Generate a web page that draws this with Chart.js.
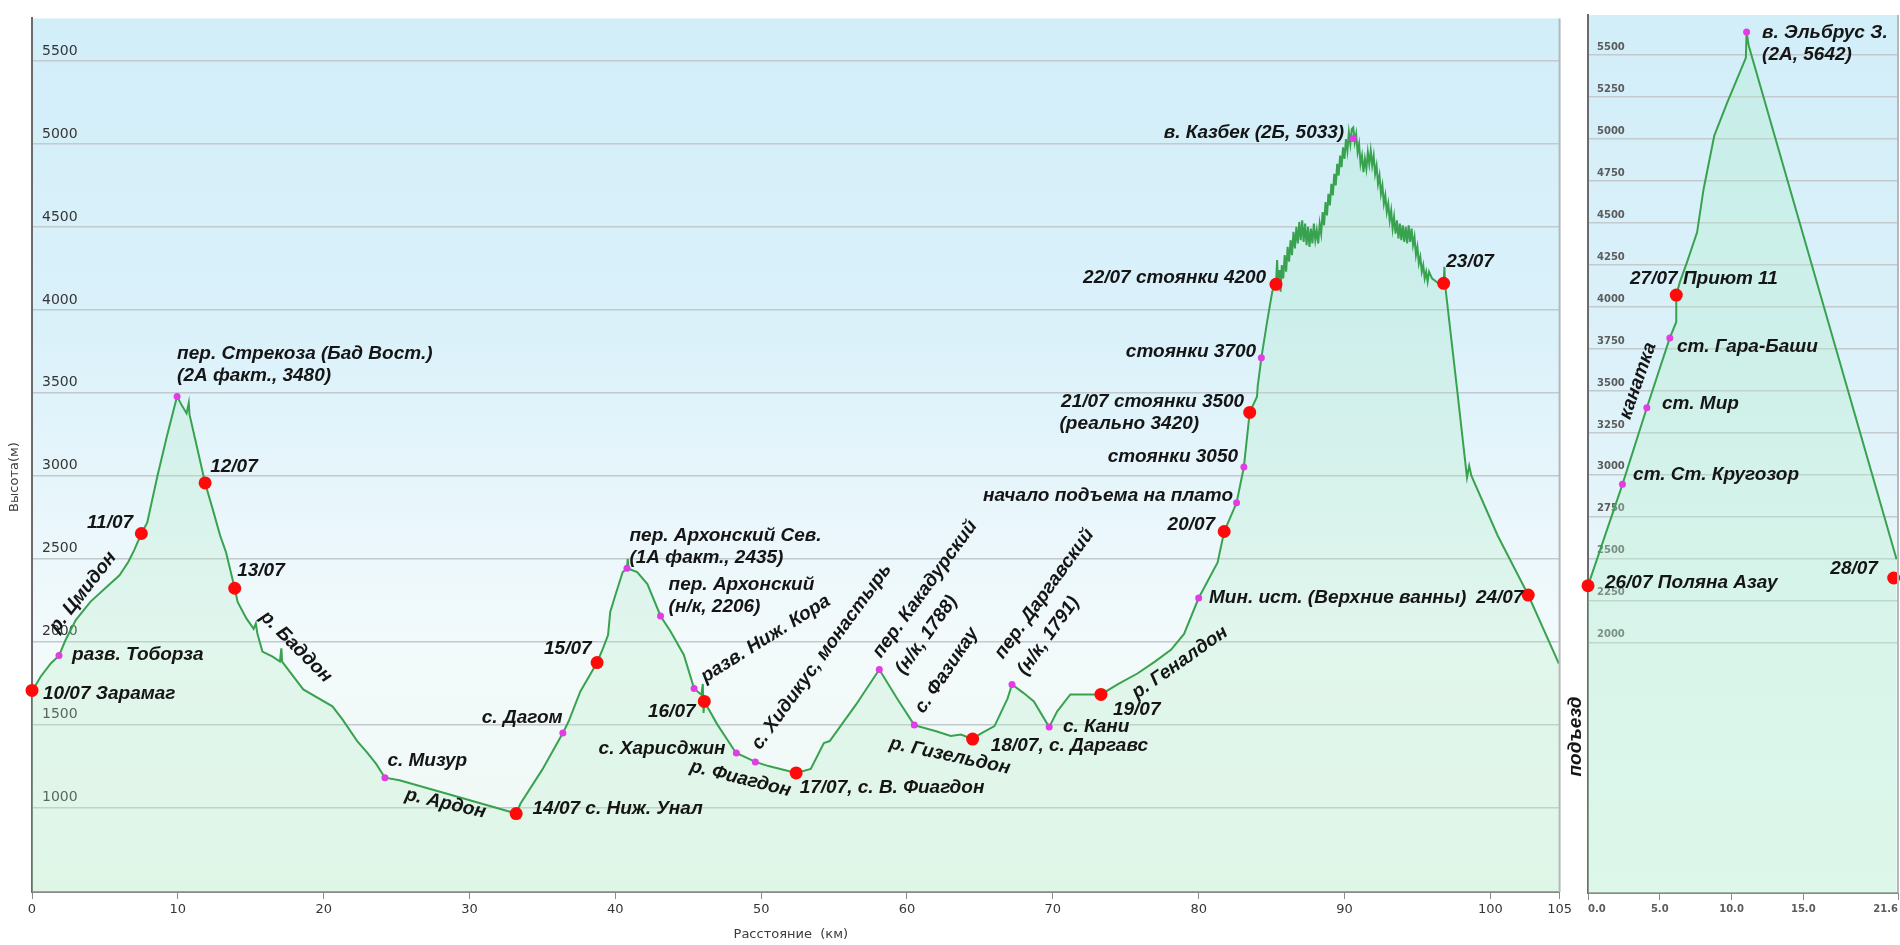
<!DOCTYPE html>
<html>
<head>
<meta charset="utf-8">
<script src="https://cdn.jsdelivr.net/npm/chart.js@4.4.1/dist/chart.umd.min.js"></script>
<style>
    html, body { margin: 0; padding: 0; width: 1900px; height: 945px; overflow: hidden; background: #fff; }
    #trek-chart { position: absolute; left: 0; top: 0; }
    #elbrus-chart { position: absolute; left: 1560px; top: 0; }
</style>
</head>
<body>
<canvas id="trek-chart" width="1575" height="945"></canvas>
<canvas id="elbrus-chart" width="360" height="945"></canvas>
<script>
// Main trek: [distance km, altitude m]
const trekProfile = [
    [0, 1700], [0.6, 1790], [1.3, 1870], [1.85, 1916], [2.3, 2010], [3.0, 2130], [4.0, 2240], [5.0, 2320],
    [6.0, 2400], [6.6, 2480], [7.0, 2550], [7.5, 2652], [7.9, 2717], [8.6, 2999], [9.25, 3238], [9.7, 3394],
    [9.95, 3478], [10.3, 3420], [10.6, 3376], [10.75, 3440], [10.8, 3370], [11.3, 3178], [11.87, 2957],
    [12.4, 2796], [12.9, 2640], [13.3, 2540], [13.9, 2322], [14.1, 2239], [14.7, 2140], [15.2, 2077],
    [15.35, 2110], [15.45, 2050], [15.8, 1940], [16.5, 1910], [17.0, 1880], [17.1, 1960], [17.15, 1880],
    [18.6, 1712], [20.6, 1610], [21.3, 1530], [22.3, 1401], [23.0, 1330], [23.6, 1263], [24.2, 1180],
    [25.2, 1165], [29.0, 1070], [33.2, 964], [33.5, 1024], [35.0, 1230], [36.4, 1449], [36.8, 1520],
    [37.6, 1700], [38.75, 1874], [39.2, 1970], [39.5, 2040], [39.65, 2179], [40.0, 2280], [40.5, 2418],
    [40.8, 2442], [40.85, 2500], [40.9, 2440], [41.5, 2420], [42.2, 2347], [43.1, 2155], [43.8, 2060],
    [44.7, 1920], [45.4, 1718], [45.9, 1680], [46.0, 1745], [46.05, 1570], [46.1, 1640], [47.0, 1500],
    [48.1, 1353], [48.3, 1329], [49.6, 1275], [50.5, 1250], [52.4, 1209], [53.4, 1233], [54.3, 1389],
    [54.7, 1401], [56.5, 1620], [58.1, 1832], [59.3, 1660], [60.5, 1497], [62.0, 1460], [63.0, 1431],
    [63.7, 1440], [64.5, 1413], [65.0, 1443], [66.0, 1491], [66.9, 1658], [67.2, 1742], [68.0, 1690],
    [68.7, 1640], [69.75, 1485], [70.3, 1580], [71.2, 1682], [73.3, 1682], [74.5, 1745], [75.8, 1808],
    [77.0, 1880], [78.1, 1951], [79.0, 2047], [80.0, 2263], [81.3, 2478], [81.75, 2664], [82.6, 2837],
    [83.1, 3053], [83.5, 3382], [84.0, 3477], [84.05, 3540], [84.3, 3711], [84.7, 3932], [85.05, 4112],
    // Kazbek ascent and descent (noisy GPS track)
    [85.3, 4154], [85.38, 4300], [85.45, 4140], [85.55, 4240], [85.62, 4110], [85.7, 4270], [85.8, 4190],
    [85.9, 4330], [86.0, 4230], [86.1, 4380], [86.2, 4290], [86.3, 4420], [86.4, 4330], [86.5, 4470],
    [86.6, 4370], [86.7, 4500], [86.8, 4400], [86.9, 4530], [87.0, 4420], [87.1, 4540], [87.2, 4410],
    [87.3, 4520], [87.4, 4390], [87.5, 4500], [87.6, 4380], [87.7, 4490], [87.8, 4400], [87.9, 4520],
    [88.0, 4420], [88.1, 4480], [88.2, 4400], [88.3, 4520], [88.4, 4460], [88.5, 4590], [88.6, 4510],
    [88.7, 4650], [88.8, 4570], [88.9, 4700], [89.0, 4630], [89.1, 4760], [89.2, 4690], [89.3, 4820],
    [89.4, 4750], [89.5, 4880], [89.6, 4810], [89.7, 4930], [89.8, 4860], [89.9, 4980], [90.0, 4910],
    [90.1, 5030], [90.2, 4960], [90.3, 5070], [90.4, 5000], [90.5, 5090], [90.6, 5100], [90.7, 5010],
    [90.8, 5060], [90.9, 4950], [91.0, 5000], [91.1, 4880], [91.2, 4930], [91.3, 4830], [91.4, 4910],
    [91.5, 4850], [91.6, 4950], [91.7, 4880], [91.8, 4960], [91.9, 4870], [92.0, 4930], [92.1, 4820],
    [92.2, 4870], [92.3, 4760], [92.4, 4810], [92.5, 4700], [92.6, 4750], [92.7, 4640], [92.8, 4690],
    [92.9, 4590], [93.0, 4640], [93.1, 4540], [93.2, 4600], [93.3, 4490], [93.4, 4560], [93.5, 4460],
    [93.6, 4540], [93.7, 4430], [93.8, 4520], [93.9, 4420], [94.0, 4510], [94.1, 4410], [94.2, 4500],
    [94.3, 4400], [94.4, 4510], [94.5, 4410], [94.6, 4490], [94.7, 4390], [94.8, 4440], [94.9, 4330],
    [95.0, 4380], [95.1, 4280], [95.2, 4320], [95.3, 4230], [95.4, 4270], [95.5, 4190], [95.6, 4230],
    [95.7, 4170], [95.8, 4230], [96.0, 4190], [96.3, 4170], [96.6, 4150], [96.8, 4160], [96.85, 4260],
    [96.9, 4150], [97.7, 3537], [98.4, 2990], [98.55, 3060], [98.7, 3000], [100.5, 2640], [102.6, 2281],
    [104.7, 1868]
];

// Overnight stops (red) and named waypoints (magenta)
const trekDays = [
    [0, 1706], [7.5, 2652], [11.87, 2957], [13.9, 2322], [33.2, 964], [38.75, 1874], [46.1, 1640],
    [52.4, 1209], [64.5, 1413], [73.3, 1682], [81.75, 2664], [83.5, 3382], [85.3, 4154], [96.8, 4160],
    [102.6, 2281]
];
const trekWaypoints = [
    [1.85, 1916], [9.95, 3478], [24.2, 1180], [36.4, 1449], [40.8, 2442], [43.1, 2155], [45.4, 1718],
    [48.3, 1329], [49.6, 1275], [58.1, 1832], [60.5, 1497], [67.2, 1742], [69.75, 1485], [80.0, 2263],
    [82.6, 2837], [83.1, 3053], [84.3, 3711], [90.6, 5033]
];

const trekXTicks = [0, 10, 20, 30, 40, 50, 60, 70, 80, 90, 100, 104.75];
const trekXTickLabels = ['0', '10', '20', '30', '40', '50', '60', '70', '80', '90', '100', '105'];
const trekYTicks = [1000, 1500, 2000, 2500, 3000, 3500, 4000, 4500, 5000, 5500];

// Elbrus day trip
const elbrusProfile = [
    [0, 2340], [2.4, 2944], [4.1, 3400], [5.7, 3816], [6.15, 3911], [6.15, 4000], [6.15, 4071],
    [6.4, 4148], [6.9, 4267], [7.6, 4445], [8.05, 4700], [8.8, 5021], [9.7, 5217], [11.0, 5484],
    [11.05, 5638], [11.2, 5555], [21.5, 2498]
];
const elbrusDays = [[0, 2340], [6.15, 4071], [21.3, 2386]];
const elbrusWaypoints = [[2.4, 2944], [4.1, 3400], [5.7, 3816], [11.05, 5638]];

const elbrusXTicks = [0, 5, 10, 15, 21.6];
const elbrusXTickLabels = ['0.0', '5.0', '10.0', '15.0', '21.6'];
const elbrusYTicks = [2000, 2250, 2500, 2750, 3000, 3250, 3500, 3750, 4000, 4250, 4500, 4750, 5000, 5250, 5500];

// text labels, anchored in km / m
const trekLabels = [
    {t: '10/07 Зарамаг', x: 0.75, y: 1688},
    {t: 'разв. Тоборза', x: 2.75, y: 1922},
    {t: 'р. Цмидон', x: 3.5, y: 2299, align: 'center', rot: -52},
    {t: '11/07', x: 6.93, y: 2717, align: 'right'},
    {t: 'пер. Стрекоза (Бад Вост.)\n(2А факт., 3480)', x: 9.95, y: 3735},
    {t: '12/07', x: 12.22, y: 3053},
    {t: '13/07', x: 14.07, y: 2430},
    {t: 'р. Баддон', x: 18.1, y: 1969, align: 'center', rot: 45},
    {t: 'с. Мизур', x: 24.37, y: 1281},
    {t: 'р. Ардон', x: 28.35, y: 1024, align: 'center', rot: 13},
    {t: '14/07 с. Ниж. Унал', x: 34.32, y: 994},
    {t: 'с. Дагом', x: 36.38, y: 1539, align: 'right'},
    {t: '15/07', x: 38.37, y: 1957, align: 'right'},
    {t: 'пер. Архонский Сев.\n(1А факт., 2435)', x: 40.97, y: 2640},
    {t: 'пер. Архонский\n(н/к, 2206)', x: 43.65, y: 2346},
    {t: 'разв. Ниж. Кора', x: 50.31, y: 2017, align: 'center', rot: -32},
    {t: '16/07', x: 45.5, y: 1580, align: 'right'},
    {t: 'с. Хидикус, монастырь', x: 54.15, y: 1910, align: 'center', rot: -54},
    {t: 'с. Харисджин', x: 47.56, y: 1353, align: 'right'},
    {t: 'р. Фиагдон', x: 48.59, y: 1174, align: 'center', rot: 14},
    {t: '17/07, с. В. Фиагдон', x: 52.64, y: 1120},
    {t: 'пер. Какадурский\n(н/к, 1788)', x: 57.93, y: 1916, rot: -54},
    {t: 'с. Фазикау', x: 62.73, y: 1826, align: 'center', rot: -56},
    {t: 'р. Гизельдон', x: 62.94, y: 1311, align: 'center', rot: 12},
    {t: '18/07, с. Даргавс', x: 65.75, y: 1371},
    {t: 'пер. Даргавский\n(н/к, 1791)', x: 66.3, y: 1910, rot: -54},
    {t: 'с. Кани', x: 70.69, y: 1485},
    {t: '19/07', x: 74.12, y: 1592},
    {t: 'р. Геналдон', x: 78.72, y: 1874, align: 'center', rot: -35},
    {t: 'Мин. ист. (Верхние ванны)', x: 80.71, y: 2263},
    {t: '24/07', x: 102.27, y: 2263, align: 'right'},
    {t: '20/07', x: 81.13, y: 2705, align: 'right'},
    {t: 'начало подъема на плато', x: 82.36, y: 2879, align: 'right'},
    {t: 'стоянки 3050', x: 82.7, y: 3112, align: 'right'},
    {t: '21/07 стоянки 3500', x: 83.12, y: 3447, align: 'right'},
    {t: '(реально 3420)', x: 80.03, y: 3316, align: 'right'},
    {t: 'стоянки 3700', x: 83.94, y: 3747, align: 'right'},
    {t: '22/07 стоянки 4200', x: 84.63, y: 4195, align: 'right'},
    {t: 'в. Казбек (2Б, 5033)', x: 89.98, y: 5069, align: 'right'},
    {t: '23/07', x: 96.98, y: 4291}
];
const elbrusLabels = [
    {t: 'в. Эльбрус З.\n(2А, 5642)', x: 12.13, y: 5632},
    {t: '27/07 Приют 11', x: 2.93, y: 4166},
    {t: 'ст. Гара-Баши', x: 6.2, y: 3763},
    {t: 'ст. Мир', x: 5.16, y: 3424},
    {t: 'ст. Ст. Кругозор', x: 3.14, y: 3003},
    {t: '26/07 Поляна Азау', x: 1.18, y: 2356},
    {t: '28/07', x: 20.2, y: 2439, align: 'right'},
    {t: 'канатка', x: 3.48, y: 3561, align: 'center', rot: -71},
    {t: 'подъезд', x: -0.84, y: 1442, align: 'center', rot: -90}
];

const LABEL_FONT = 'italic bold 19px "Liberation Sans", Arial, sans-serif';

const elevationCharts = {
    init: function () {
        this.generateTrekChart();
        this.generateElbrusChart();
    },

    toPoints: function (pairs) {
        return pairs.map(p => ({x: p[0], y: p[1]}));
    },

    backgroundPlugin: function (stops) {
        return {
            id: 'areaBackground',
            beforeDraw(chart) {
                const {ctx, chartArea: a} = chart;
                const g = ctx.createLinearGradient(0, a.top, 0, a.bottom);
                stops.forEach(s => g.addColorStop(s[0], s[1]));
                ctx.save();
                ctx.fillStyle = g;
                ctx.fillRect(a.left, a.top, a.right - a.left, a.bottom - a.top);
                ctx.restore();
            },
            afterDraw(chart) {
                // thin frame on the right edge of the plot
                const {ctx, chartArea: a} = chart;
                ctx.save();
                ctx.strokeStyle = '#b4b8ba';
                ctx.lineWidth = 2;
                ctx.beginPath();
                ctx.moveTo(a.right, a.top);
                ctx.lineTo(a.right, a.bottom);
                ctx.stroke();
                ctx.restore();
            }
        };
    },

    labelsPlugin: function (items, extra) {
        return {
            id: 'pointLabels',
            afterDatasetsDraw(chart) {
                const c = chart.ctx, xs = chart.scales.x, ys = chart.scales.y;
                c.save();
                c.fillStyle = '#151515';
                c.font = LABEL_FONT;
                c.textBaseline = 'middle';
                items.forEach(l => {
                    c.save();
                    c.translate(xs.getPixelForValue(l.x), ys.getPixelForValue(l.y));
                    if (l.rot) c.rotate(l.rot * Math.PI / 180);
                    c.textAlign = l.align || 'left';
                    const lh = l.rot ? 28 : 22;
                    l.t.split('\n').forEach((line, i) => c.fillText(line, 0, i * lh));
                    c.restore();
                });
                c.restore();
                if (extra) extra(chart);
            }
        };
    },

    fillGradient: function (top, bottom) {
        return function (context) {
            const {ctx, chartArea} = context.chart;
            if (!chartArea) return bottom;
            const g = ctx.createLinearGradient(0, chartArea.top, 0, chartArea.bottom);
            g.addColorStop(0, top);
            g.addColorStop(1, bottom);
            return g;
        };
    },

    buildDatasets: function (profile, days, waypoints, fillTop, fillBottom) {
        return [
            {
                data: this.toPoints(days),
                showLine: false,
                pointRadius: 6.5,
                pointBackgroundColor: '#ff0a0a',
                pointBorderWidth: 0,
                clip: false,
                order: 1
            },
            {
                data: this.toPoints(waypoints),
                showLine: false,
                pointRadius: 3.5,
                pointBackgroundColor: '#e23ce6',
                pointBorderWidth: 0,
                clip: false,
                order: 2
            },
            {
                data: this.toPoints(profile),
                borderColor: '#38a24f',
                borderWidth: 2,
                tension: 0,
                pointRadius: 0,
                fill: 'start',
                backgroundColor: this.fillGradient(fillTop, fillBottom),
                order: 3
            }
        ];
    },

    baseOptions: function (cfg) {
        return {
            responsive: false,
            animation: false,
            devicePixelRatio: 1,
            events: [],
            layout: {padding: cfg.padding},
            plugins: {legend: {display: false}, tooltip: {enabled: false}},
            scales: {
                x: {
                    type: 'linear',
                    min: cfg.xTicks[0],
                    max: cfg.xTicks[cfg.xTicks.length - 1],
                    afterBuildTicks: s => { s.ticks = cfg.xTicks.map(v => ({value: v})); },
                    afterFit: s => { s.height = cfg.xHeight; },
                    border: {color: '#8a8a8a', width: 2},
                    grid: {drawOnChartArea: false, drawTicks: true, tickLength: 7, color: '#8a8a8a'},
                    ticks: {
                        autoSkip: false,
                        maxRotation: 0,
                        padding: 3,
                        align: cfg.xAlign || 'center',
                        color: cfg.tickColor,
                        font: cfg.xFont,
                        callback: (v, i) => cfg.xLabels[i]
                    }
                },
                y: {
                    type: 'linear',
                    min: cfg.yMin,
                    max: cfg.yMax,
                    afterBuildTicks: s => { s.ticks = cfg.yTicks.map(v => ({value: v})); },
                    afterFit: s => { s.width = 0; },
                    border: {color: '#6b6b6b', width: 2},
                    grid: {drawTicks: false, color: '#c2cacd', lineWidth: 1.5},
                    ticks: {
                        mirror: true,
                        padding: cfg.yPad,
                        labelOffset: cfg.yLabelOffset,
                        color: cfg.tickColor,
                        font: cfg.yFont,
                        callback: v => String(v)
                    }
                }
            }
        };
    },

    generateTrekChart: function () {
        const el = document.getElementById('trek-chart').getContext('2d');
        const options = this.baseOptions({
            padding: {left: 32, top: 12, right: 15, bottom: 0},
            xTicks: trekXTicks, xLabels: trekXTickLabels, xHeight: 53,
            yTicks: trekYTicks, yMin: 491, yMax: 5757,
            yPad: 10, yLabelOffset: -10,
            tickColor: '#363636',
            xFont: {family: 'DejaVu Sans', size: 13},
            yFont: {family: 'DejaVu Sans', size: 14}
        });
        new Chart(el, {
            type: 'line',
            data: {datasets: this.buildDatasets(trekProfile, trekDays, trekWaypoints,
                'rgba(150,228,175,0.20)', 'rgba(185,238,200,0.28)')},
            options: options,
            plugins: [
                this.backgroundPlugin([[0, '#d2eef9'], [0.35, '#daf1fa'], [0.6, '#ebf7fb'], [0.72, '#f3fafb'], [1, '#eef9f3']]),
                this.labelsPlugin(trekLabels, chart => {
                    const c = chart.ctx;
                    c.save();
                    c.fillStyle = '#3c3c3c';
                    c.font = '13px "DejaVu Sans"';
                    c.textAlign = 'center';
                    c.textBaseline = 'middle';
                    c.fillText('Расстояние  (км)', (chart.chartArea.left + chart.chartArea.right) / 2 - 5, 935);
                    c.translate(15, 477);
                    c.rotate(-Math.PI / 2);
                    c.fillText('Высота(м)', 0, 0);
                    c.restore();
                })
            ]
        });
    },

    generateElbrusChart: function () {
        const el = document.getElementById('elbrus-chart').getContext('2d');
        const options = this.baseOptions({
            padding: {left: 28, top: 12, right: 22, bottom: 0},
            xTicks: elbrusXTicks, xLabels: elbrusXTickLabels, xHeight: 52, xAlign: 'inner',
            yTicks: elbrusYTicks, yMin: 510, yMax: 5739,
            yPad: 9, yLabelOffset: -8,
            tickColor: '#5c5c5c',
            xFont: {family: 'DejaVu Sans', size: 10, weight: 'bold'},
            yFont: {family: 'DejaVu Sans', size: 10, weight: 'bold'}
        });
        new Chart(el, {
            type: 'line',
            data: {datasets: this.buildDatasets(elbrusProfile, elbrusDays, elbrusWaypoints,
                'rgba(170,236,195,0.28)', 'rgba(190,242,210,0.38)')},
            options: options,
            plugins: [
                this.backgroundPlugin([[0, '#d2eef9'], [0.4, '#dcf1f9'], [0.7, '#eaf7fa'], [1, '#f0faf8']]),
                this.labelsPlugin(elbrusLabels)
            ]
        });
    }
};

elevationCharts.init();
</script>
</body>
</html>
